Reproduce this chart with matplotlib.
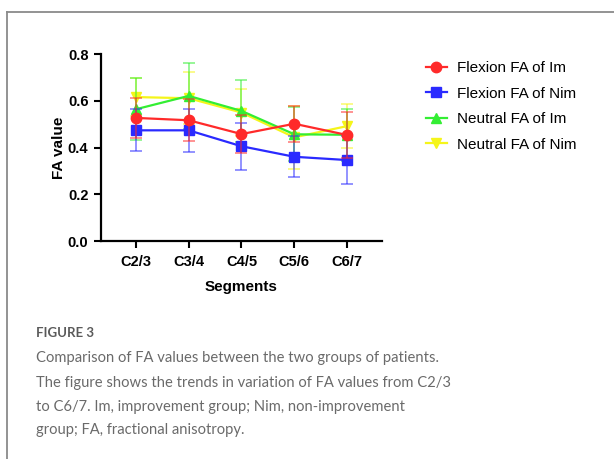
import matplotlib
matplotlib.use("Agg")
import matplotlib.pyplot as plt
from matplotlib.lines import Line2D

segments = ["C2/3", "C3/4", "C4/5", "C5/6", "C6/7"]
series_names = ["Flexion FA of Im", "Flexion FA of Nim", "Neutral FA of Im", "Neutral FA of Nim"]
flex_im = [0.527, 0.517, 0.458, 0.502, 0.454]
flex_im_sd = [0.085, 0.09, 0.082, 0.077, 0.10]
flex_nim = [0.474, 0.474, 0.406, 0.361, 0.347]
flex_nim_sd = [0.09, 0.092, 0.10, 0.088, 0.102]
neut_im = [0.564, 0.621, 0.557, 0.457, 0.455]
neut_im_sd = [0.132, 0.14, 0.134, 0.115, 0.11]
neut_nim = [0.616, 0.611, 0.550, 0.444, 0.492]
neut_nim_sd = [0.08, 0.11, 0.10, 0.135, 0.094]
yticks = [0.0, 0.2, 0.4, 0.6, 0.8]

caption_title = "FIGURE 3"
caption_lines = [
    "Comparison of FA values between the two groups of patients.",
    "The figure shows the trends in variation of FA values from C2/3",
    "to C6/7. Im, improvement group; Nim, non-improvement",
    "group; FA, fractional anisotropy.",
]

W, H = 614, 459
fig = plt.figure(figsize=(W / 100, H / 100), dpi=100)
fig.patch.set_facecolor("white")

# frame lines
fig.add_artist(Line2D([7 / W, 1.0], [1 - 11.5 / H, 1 - 11.5 / H], color="#8a8a8a", lw=1.3))
fig.add_artist(Line2D([7 / W, 7 / W], [0, 1 - 11.5 / H], color="#8a8a8a", lw=1.3))

left, right, top, bottom = 101, 382, 54, 241.3
ax = fig.add_axes([left / W, 1 - bottom / H, (right - left) / W, (bottom - top) / H])

x = list(range(len(segments)))
styles = [
    (flex_im, flex_im_sd, "#ff2a2a", "o", 7.5, 5),
    (flex_nim, flex_nim_sd, "#2a2aff", "s", 6.5, 4),
    (neut_im, neut_im_sd, "#33ee33", "^", 7, 3),
    (neut_nim, neut_nim_sd, "#f5f51a", "v", 7, 2),
]
handles = []
for (vals, sd, col, mk, ms, z), name in zip(styles, series_names):
    ax.errorbar(x, vals, yerr=sd, fmt="none", ecolor=col, elinewidth=1.3,
                capsize=4, capthick=1.3, alpha=0.55, zorder=z)
    (ln,) = ax.plot(x, vals, color=col, lw=1.6, marker=mk, ms=ms, zorder=z + 0.5, label=name)
    handles.append(ln)

ax.set_xlim(-0.66, 4.66)
ax.set_ylim(0, 0.8)
ax.set_xticks(x)
ax.set_xticklabels(segments)
ax.set_yticks(yticks)
ax.set_yticklabels([f"{v:.1f}" for v in yticks])
for s in ["top", "right"]:
    ax.spines[s].set_visible(False)
for s in ["left", "bottom"]:
    ax.spines[s].set_linewidth(1.6)
ax.tick_params(direction="out", length=5, width=1.5, labelsize=10.5, pad=4)
for lab in ax.get_xticklabels() + ax.get_yticklabels():
    lab.set_fontfamily("Liberation Sans")
    lab.set_fontweight("bold")
ax.tick_params(axis="x", pad=5)
ax.set_xlabel("Segments", fontsize=11, fontweight="bold", family="Liberation Sans", labelpad=8)
ax.set_ylabel("FA value", fontsize=11, fontweight="bold", family="Liberation Sans", labelpad=1)

fig.legend(handles=handles, loc="upper left", bbox_to_anchor=(426 / W, 1 - 61 / H),
           frameon=False, prop={"family": "Liberation Sans", "size": 11},
           handlelength=1.35, handletextpad=0.7, labelspacing=0.76, borderpad=0,
           borderaxespad=0)

fig.text(36 / W, 1 - 333 / H, caption_title, fontsize=9.5, color="#5a5a5a", family="Lato",
         fontweight="bold", va="center", ha="left")
ys = [358, 382.5, 406.5, 430]
for yy, line in zip(ys, caption_lines):
    fig.text(36 / W, 1 - yy / H, line, fontsize=10.6, color="#6a6a6a", family="Lato",
             fontweight="normal", va="center", ha="left")

fig.savefig("out.png", dpi=100)
